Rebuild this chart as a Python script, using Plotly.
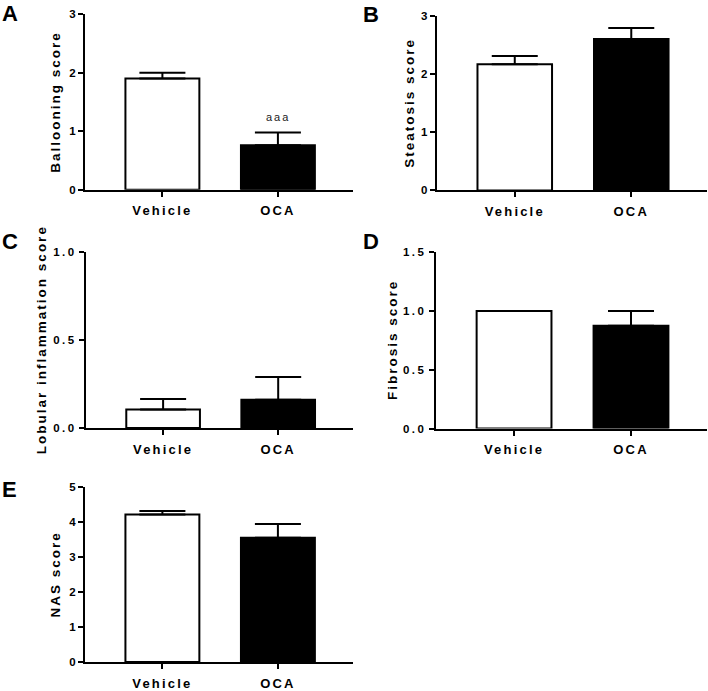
import plotly.graph_objects as go

groups = ["Vehicle", "OCA"]

ballooning = [1.9, 0.76]
ballooning_err = [0.1, 0.22]

steatosis = [2.17, 2.6]
steatosis_err = [0.14, 0.19]

lobular = [0.105, 0.16]
lobular_err = [0.06, 0.13]

fibrosis = [1.0, 0.875]
fibrosis_err = [0.0, 0.125]

nas = [4.2, 3.54]
nas_err = [0.1, 0.39]

panels = [
    ("A", "Ballooning score", ballooning, ballooning_err, [0, 3], [0, 1, 2, 3], "d"),
    ("B", "Steatosis score", steatosis, steatosis_err, [0, 3], [0, 1, 2, 3], "d"),
    ("C", "Lobular inflammation score", lobular, lobular_err, [0, 1], [0, 0.5, 1.0], ".1f"),
    ("D", "Fibrosis score", fibrosis, fibrosis_err, [0, 1.5], [0, 0.5, 1.0, 1.5], ".1f"),
    ("E", "NAS score", nas, nas_err, [0, 5], [0, 1, 2, 3, 4, 5], "d"),
]

W, H = 708, 691
# pixel boxes of each plot area (left, right, top, bottom)
boxes = [
    (85, 353, 8.3, 187),
    (436.7, 707, 10, 187.7),
    (86, 353, 250.7, 429.4),
    (435.7, 707, 250.7, 430),
    (85, 353, 489, 667.7),
]
# x centre of the rotated y titles
title_x = [55.7, 408.7, 41, 392.5, 55.3]
letter_pos = [(0, 8), (361, 9), (0, 240), (361, 240), (0, 492)]

FONT = "Liberation Sans, Arial, sans-serif"


def spaced(t, sp=2.0):
    if len(t) < 2:
        return t
    return '<span style="letter-spacing:%spx">%s</span>' % (sp, t)


fig = go.Figure()
annotations = []

for i, (letter, title, vals, errs, yr, yt, fmt) in enumerate(panels):
    n = "" if i == 0 else str(i + 1)
    l, r, t, b = boxes[i]
    fig.add_trace(go.Bar(
        x=groups, y=vals,
        xaxis="x" + n, yaxis="y" + n,
        width=0.64,
        marker=dict(color=["white", "black"], line=dict(color="black", width=2)),
        error_y=dict(type="data", symmetric=False, array=errs, arrayminus=[0, 0],
                     color="black", thickness=2, width=23),
        showlegend=False, hoverinfo="skip",
    ))
    fig.layout["xaxis" + n] = dict(
        domain=[l / W, r / W], anchor="y" + n,
        range=[-0.67, 1.65], showline=True, linecolor="black", linewidth=2,
        ticks="outside", ticklen=5, tickwidth=2, tickcolor="black",
        tickvals=groups, ticktext=[spaced(g, 2.2) for g in groups],
        ticklabelstandoff=3,
        tickfont=dict(family=FONT, size=13, color="black", weight="bold"),
        showgrid=False, zeroline=False, fixedrange=True,
    )
    ylabels = [format(v, fmt) if fmt != "d" else str(int(v)) for v in yt]
    fig.layout["yaxis" + n] = dict(
        domain=[1 - b / H, 1 - t / H], anchor="x" + n,
        range=yr, showline=True, linecolor="black", linewidth=2,
        ticks="outside", ticklen=5, tickwidth=2, tickcolor="black",
        tickvals=yt, ticktext=[spaced(s, 2.5) for s in ylabels],
        tickfont=dict(family=FONT, size=11.5, color="black", weight="bold"),
        showgrid=False, zeroline=False, fixedrange=True,
    )
    # y title
    annotations.append(dict(
        text=spaced(title, 2.0), xref="paper", yref="paper",
        x=title_x[i] / W, y=1 - (t + b) / 2 / H, textangle=-90,
        xanchor="center", yanchor="middle", showarrow=False,
        font=dict(family=FONT, size=13.5, color="black", weight="bold"),
    ))
    lx, ly = letter_pos[i]
    annotations.append(dict(
        text=letter, xref="paper", yref="paper", x=lx / W, y=1 - ly / H,
        xanchor="left", yanchor="middle", showarrow=False,
        font=dict(family=FONT, size=22, color="black", weight="bold"),
    ))

annotations.append(dict(
    text=spaced("aaa", 2), xref="x", yref="y", x="OCA", y=1.25,
    xanchor="center", yanchor="middle", showarrow=False,
    font=dict(family=FONT, size=11, color="#222222"),
))

fig.update_layout(
    width=W, height=H,
    margin=dict(l=0, r=0, t=0, b=0),
    paper_bgcolor="white", plot_bgcolor="white",
    annotations=annotations,
)

pin = (
    "var gd=document.getElementById('{plot_id}');"
    "document.documentElement.style.margin='0';document.body.style.margin='0';"
    "gd.style.position='fixed';gd.style.left='0px';gd.style.top='0px';"
)
fig.write_html("out.html", config={"displayModeBar": False}, post_script=pin)
